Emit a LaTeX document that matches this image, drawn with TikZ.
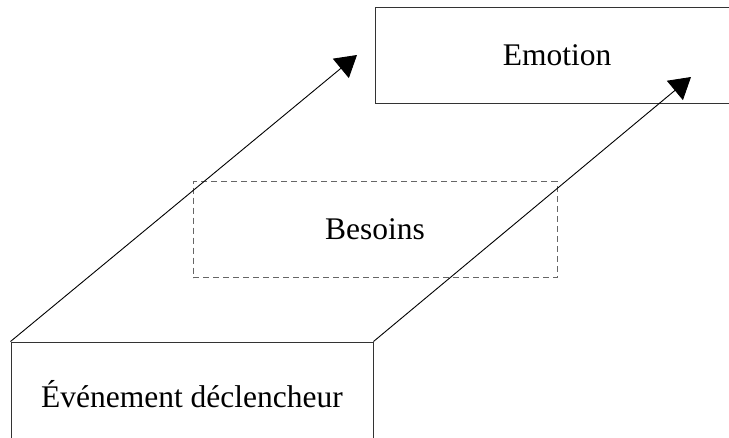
\documentclass[tikz,border=0pt]{standalone}
\usepackage{fontspec}
\setmainfont{Liberation Serif}
\usetikzlibrary{arrows.meta}

\begin{document}
\begin{tikzpicture}[x=1pt,y=-1pt,
  box/.style={draw=black!80, line width=1pt, minimum width=364pt, minimum height=96pt, inner sep=0pt, font=\fontsize{31.5}{36}\selectfont},
  wish/.style={box, draw=black!60, dashed, dash pattern=on 6pt off 4pt},
  link/.style={line width=0.9pt, -{Triangle[length=21pt,width=25pt]}}]
  \clip (0,0) rectangle (729,437);
  \node[box, minimum width=362pt, minimum height=104pt] (event) at (192,394) {Événement déclencheur};
  \node[box] (emotion) at (557,55) {Emotion};
  \node[wish] (needs) at (375,229.5) {Besoins};
  \coordinate (tipa) at (357,55);
  \coordinate (tipb) at (691,77);
  \draw[link] (event.north west) -- (tipa);
  \draw[link] (event.north east) -- (tipb);
\end{tikzpicture}
\end{document}
